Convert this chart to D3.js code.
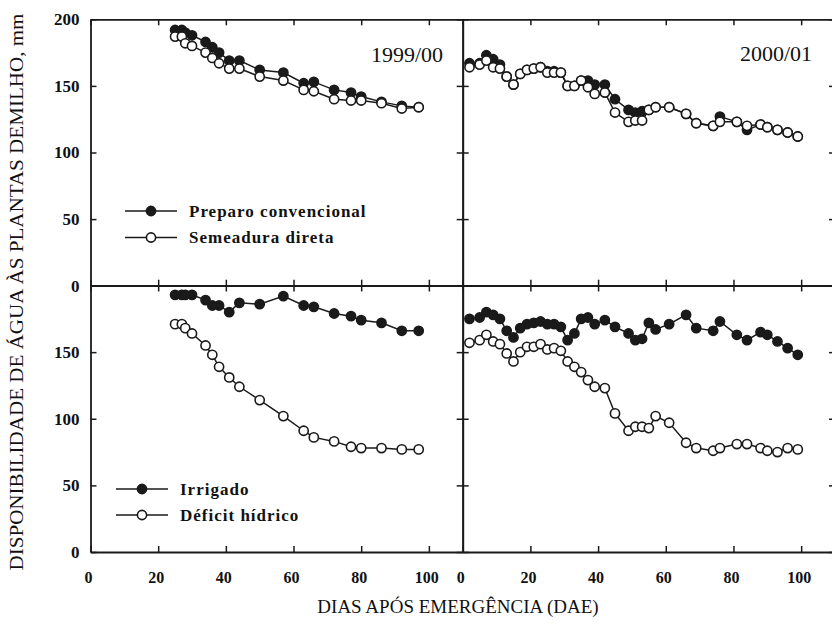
<!DOCTYPE html>
<html>
<head>
<meta charset="utf-8">
<title>Disponibilidade de agua - milho</title>
<script src="https://d3js.org/d3.v7.min.js"></script>
<style>
  body { margin: 0; background: #fff; }
  text { font-family: "Liberation Serif", "Times New Roman", serif; fill: #111; }
</style>
</head>
<body>
<script>

// dias apos emergencia (DAE)
var dias9900 = [25, 27, 28, 30, 34, 36, 38, 41, 44, 50, 57, 63, 66, 72, 77, 80, 86, 92, 97];
var dias0001 = [2, 5, 7, 9, 11, 13, 15, 17, 19, 21, 23, 25, 27, 29, 31, 33, 35, 37, 39, 42,
                45, 49, 51, 53, 55, 57, 61, 66, 69, 74, 76, 81, 84, 88, 90, 93, 96, 99];

// painel superior: sistemas de preparo (mm)
var convencional9900 = [192, 192, 190, 188, 183, 179, 175, 169, 169, 162, 160, 152, 153, 147, 145, 142, 138, 135, 134];
var direta9900       = [187, 187, 182, 180, 175, 171, 167, 163, 163, 157, 154, 147, 146, 140, 139, 139, 137, 133, 134];
var convencional0001 = [167, 167, 173, 170, 166, 157, 151, 159, 162, 163, 164, 161, 161, 160, 150, 150, 154, 154, 151, 151,
                        140, 132, 130, 131, 132, 134, 134, 129, 122, 120, 127, 123, 117, 121, 119, 117, 115, 112];
var direta0001       = [164, 166, 169, 164, 163, 157, 151, 159, 162, 163, 164, 160, 160, 160, 150, 150, 154, 149, 144, 145,
                        130, 123, 124, 124, 132, 134, 134, 129, 122, 120, 123, 123, 120, 121, 119, 117, 115, 112];

// painel inferior: irrigado x deficit hidrico (mm)
var irrigado9900 = [193, 193, 193, 193, 189, 185, 185, 180, 187, 186, 192, 185, 184, 179, 177, 174, 172, 166, 166];
var deficit9900  = [171, 171, 168, 164, 155, 148, 139, 131, 124, 114, 102, 91, 86, 83, 79, 78, 78, 77, 77];
var irrigado0001 = [175, 176, 180, 178, 175, 166, 161, 168, 171, 172, 173, 171, 171, 169, 159, 164, 175, 176, 171, 174,
                    169, 164, 159, 160, 172, 167, 171, 178, 168, 166, 173, 163, 159, 165, 163, 158, 153, 148];
var deficit0001  = [157, 159, 163, 158, 156, 149, 143, 150, 154, 154, 156, 152, 153, 151, 143, 139, 135, 129, 124, 123,
                    104, 91, 94, 94, 93, 102, 97, 82, 78, 76, 78, 81, 81, 78, 76, 75, 78, 77];

var xTicks = [0, 20, 40, 60, 80, 100];
var yTicks = [0, 50, 100, 150, 200];
var safras = ["1999/00", "2000/01"];
var legendaPreparo = ["Preparo convencional", "Semeadura direta"];
var legendaAgua = ["Irrigado", "Déficit hídrico"];

var w = 832, h = 633;
var svg = d3.select("body").append("svg")
  .attr("width", w)
  .attr("height", h);

var xLeft = d3.scaleLinear().domain([0, 110]).range([90.5, 462.7]);
var xRight = d3.scaleLinear().domain([0, 110]).range([462.7, 835]);
var yTop = d3.scaleLinear().domain([0, 200]).range([285.7, 19.3]);
var yBottom = d3.scaleLinear().domain([0, 200]).range([552, 285.5]);

var panels = [
  {x: xLeft, y: yTop, dias: dias9900, a: convencional9900, b: direta9900, left: true, top: true},
  {x: xRight, y: yTop, dias: dias0001, a: convencional0001, b: direta0001, left: false, top: true},
  {x: xLeft, y: yBottom, dias: dias9900, a: irrigado9900, b: deficit9900, left: true, top: false},
  {x: xRight, y: yBottom, dias: dias0001, a: irrigado0001, b: deficit0001, left: false, top: false}
];

var ink = "#1a1a1a";

function styleAxis(g) {
  g.selectAll(".domain").attr("stroke", ink).attr("stroke-width", 1.8);
  g.selectAll(".tick line").attr("stroke", ink).attr("stroke-width", 1.5);
}

panels.forEach(function(p) {
  var x0 = p.x.range()[0], x1 = p.x.range()[1];
  var y0 = p.y.range()[0], y1 = p.y.range()[1];

  // bottom
  var gb = svg.append("g")
    .attr("transform", "translate(0," + y0 + ")")
    .call(d3.axisBottom(p.x).tickValues(xTicks).tickSizeInner(-6).tickSizeOuter(0).tickPadding(20)
      .tickFormat(p.top ? function(){ return ""; } : d3.format("d")));
  gb.selectAll("text").attr("font-size", 16).attr("font-weight", "bold").attr("dx", -2.5)
    .attr("font-family", "Liberation Serif").attr("fill", ink);
  styleAxis(gb);

  // top
  var gt = svg.append("g")
    .attr("transform", "translate(0," + y1 + ")")
    .call(d3.axisTop(p.x).tickValues(xTicks).tickSizeInner(-6).tickSizeOuter(0).tickFormat(""));
  styleAxis(gt);

  // left
  var gl = svg.append("g")
    .attr("transform", "translate(" + x0 + ",0)")
    .call(d3.axisLeft(p.y).tickValues(yTicks).tickSizeInner(-6).tickSizeOuter(0).tickPadding(11)
      .tickFormat(function(d){ return (p.left && (p.top || d < 200)) ? d : ""; }));
  gl.selectAll("text").attr("font-size", 17).attr("font-weight", "bold")
    .attr("font-family", "Liberation Serif").attr("fill", ink);
  styleAxis(gl);

  // right
  var gr = svg.append("g")
    .attr("transform", "translate(" + x1 + ",0)")
    .call(d3.axisRight(p.y).tickValues(yTicks).tickSizeInner(-6).tickSizeOuter(0).tickFormat(""));
  styleAxis(gr);

  var line = d3.line()
    .x(function(d){ return p.x(d[0]); })
    .y(function(d){ return p.y(d[1]); });

  [p.a, p.b].forEach(function(vals, i) {
    var pts = p.dias.map(function(d, j){ return [d, vals[j]]; });
    svg.append("path")
      .datum(pts)
      .attr("d", line)
      .attr("fill", "none")
      .attr("stroke", ink)
      .attr("stroke-width", 1.5);
    svg.append("g").selectAll("circle")
      .data(pts)
      .enter()
      .append("circle")
      .attr("cx", function(d){ return p.x(d[0]); })
      .attr("cy", function(d){ return p.y(d[1]); })
      .attr("r", 4.6)
      .attr("fill", i == 0 ? ink : "#fff")
      .attr("stroke", ink)
      .attr("stroke-width", 1.6);
  });
});

// safra labels
svg.append("text").attr("x", 443).attr("y", 62).attr("text-anchor", "end")
  .attr("font-size", 22).text(safras[0]);
svg.append("text").attr("x", 812).attr("y", 61).attr("text-anchor", "end")
  .attr("font-size", 22).text(safras[1]);

// legends
function legend(items, lx0, lx1, tx, ys) {
  items.forEach(function(name, i) {
    var g = svg.append("g");
    g.append("line")
      .attr("x1", lx0).attr("x2", lx1)
      .attr("y1", ys[i]).attr("y2", ys[i])
      .attr("stroke", ink).attr("stroke-width", 1.5);
    g.append("circle")
      .attr("cx", (lx0 + lx1) / 2).attr("cy", ys[i]).attr("r", 4.6)
      .attr("fill", i == 0 ? ink : "#fff")
      .attr("stroke", ink).attr("stroke-width", 1.6);
    g.append("text")
      .attr("x", tx).attr("y", ys[i] + 5.5)
      .attr("font-size", 17).attr("font-weight", "bold")
      .attr("letter-spacing", 1)
      .text(name);
  });
}
legend(legendaPreparo, 125, 177, 189, [211, 237.5]);
legend(legendaAgua, 116, 168, 180, [489, 515]);

// axis titles
svg.append("text")
  .attr("x", 458).attr("y", 613)
  .attr("text-anchor", "middle")
  .attr("font-size", 19)
  .text("DIAS APÓS EMERGÊNCIA (DAE)");

svg.append("text")
  .attr("transform", "translate(23,292) rotate(-90)")
  .attr("text-anchor", "middle")
  .attr("font-size", 18)
  .attr("textLength", 557)
  .attr("lengthAdjust", "spacingAndGlyphs")
  .text("DISPONIBILIDADE DE ÁGUA ÀS PLANTAS DEMILHO, mm");

</script>
</body>
</html>
